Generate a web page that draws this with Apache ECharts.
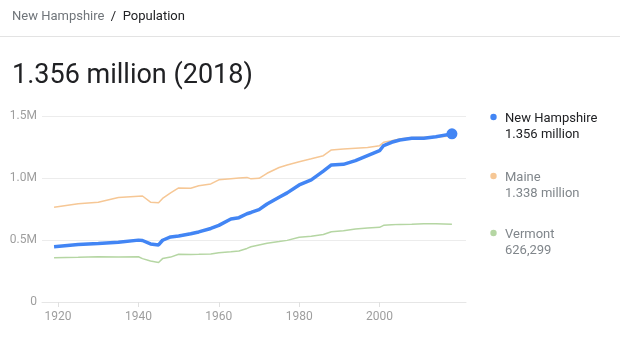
<!DOCTYPE html>
<html><head><meta charset="utf-8">
<script src="https://cdn.jsdelivr.net/npm/echarts@6/dist/echarts.min.js"></script>
<style>html,body{margin:0;padding:0;background:#fff}#c{width:620px;height:340px}</style>
</head><body><div id="c"></div>
<script>
const years = [1919,1925,1930,1935,1940,1941,1943,1945,1946,1948,1950,1953,1955,1958,1960,1963,1965,1967,1968,1970,1972,1975,1977,1980,1983,1986,1988,1991,1994,1997,2000,2001,2003,2005,2008,2011,2014,2018];
const newHampshire = [446000,463000,472000,482000,499000,496000,468000,460000,498000,525000,532000,550000,565000,593000,618000,670000,680000,712000,722000,745000,790000,845000,880000,944000,985000,1055000,1105000,1110000,1140000,1180000,1220000,1262000,1288000,1306000,1320000,1320000,1333000,1356000];
const maine = [764000,792000,805000,842000,853000,855000,805000,800000,835000,880000,920000,917000,938000,952000,985000,994000,1000000,1005000,993000,997000,1038000,1085000,1105000,1131000,1155000,1180000,1226000,1234000,1240000,1246000,1261000,1288000,1300000,1315000,1326000,1328000,1330000,1338000];
const vermont = [357000,360000,365000,363000,365000,350000,330000,318000,350000,362000,385000,384000,385000,387000,398000,405000,412000,432000,446000,460000,473000,487000,497000,522000,530000,545000,567000,575000,588000,596000,602000,618000,622000,626000,628000,631000,631000,626299];
const xTicks = [1920,1940,1960,1980,2000];
const yTickLabels = ['0','0.5M','1.0M','1.5M'];
const seriesNames = ['New Hampshire','Maine','Vermont'];
const latestLabels = ['1.356 million','1.338 million','626,299'];
const headline = '1.356 million (2018)';
const breadcrumb = ['New Hampshire','Population'];

const colors = ['#4285f4','#f6c795','#b5d6a3'];
const pair = arr => years.map((y,i)=>[y,arr[i]]);
const chart = echarts.init(document.getElementById('c'));
const font = 'Roboto, Arial, sans-serif';
const rs = (c)=>({fontSize:13,color:c,fontFamily:font,fontWeight:'normal'});
const legendTops = [117,176,233];
chart.setOption({
  animation:false,
  textStyle:{fontFamily:font},
  title:[
    {text:'{a|'+breadcrumb[0]+'}{s|  /  }{b|'+breadcrumb[1]+'}', left:12, top:10, padding:0,
     textStyle:{fontWeight:'normal',rich:{a:rs('#70757a'),s:rs('#202124'),b:rs('#202124')}}},
    {text:headline, left:12, top:63, padding:0, textStyle:{fontSize:27,fontWeight:'normal',color:'#202124',fontFamily:font}}
  ],
  graphic:[{type:'rect',shape:{x:0,y:36,width:620,height:1},style:{fill:'#e3e3e3'}}].concat(
    seriesNames.map((n,i)=>({type:'group',children:[
      {type:'circle',shape:{cx:493.5,cy:legendTops[i],r:3.2},style:{fill:colors[i]}},
      {type:'text',x:505,y:legendTops[i]-6,style:{text:n+'\n'+latestLabels[i],fill:i===0?'#202124':'#80868b',
        fontSize:13,fontFamily:font,lineHeight:16,verticalAlign:'top'}}
    ]}))),
  grid:{left:42,right:154,top:116,bottom:38},
  xAxis:{type:'value',min:1916,max:2021.5,
    axisLine:{show:true,lineStyle:{color:'#e6e6e6'}},
    axisTick:{show:true,length:5,lineStyle:{color:'#e0e0e0'},customValues:xTicks},
    axisLabel:{color:'#9e9e9e',fontSize:12,margin:9,customValues:xTicks,formatter:v=>String(v)},
    splitLine:{show:false}},
  yAxis:{type:'value',min:0,max:1500000,interval:500000,
    axisLine:{show:false},axisTick:{show:false},
    axisLabel:{color:'#9e9e9e',fontSize:12,margin:5,formatter:v=>yTickLabels[Math.round(v/500000)]},
    splitLine:{lineStyle:{color:'#ececec'}}},
  series:[
    {name:seriesNames[2],type:'line',data:pair(vermont),symbol:'none',color:colors[2],lineStyle:{width:1.5},z:2},
    {name:seriesNames[1],type:'line',data:pair(maine),symbol:'none',color:colors[1],lineStyle:{width:1.5},z:3},
    {name:seriesNames[0],type:'line',data:pair(newHampshire),color:colors[0],lineStyle:{width:3.5},z:4,
     symbol:'circle',symbolSize:(v,p)=>p.dataIndex===years.length-1?11:0,showSymbol:true,
     itemStyle:{color:colors[0]}}
  ]
});
</script></body></html>
